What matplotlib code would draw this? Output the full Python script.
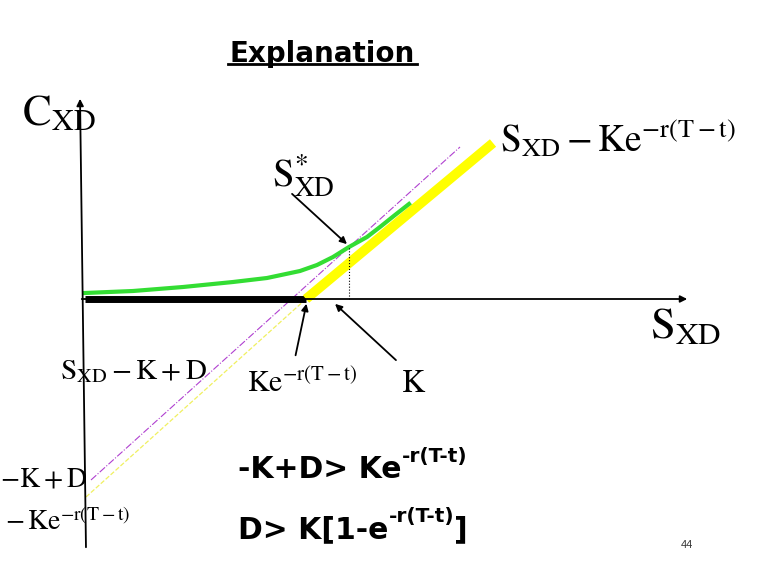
import matplotlib.pyplot as plt

# diagram coordinates: origin at the axes crossing, x = stock price S_XD, y = call value C_XD
ke_disc = 223          # K e^{-r(T-t)}
strike = 250           # K
s_star = 266           # S*_XD

payoff_x = [2, ke_disc]
payoff_y = [0, 0]
lower_x = [ke_disc, 410]
lower_y = [0, 156]

call_x = [2, 50, 100, 150, 184, 217, 234, 250, 266, 284, 297, 312, 326]
call_y = [6, 8, 12, 17, 21, 28, 34, 42, 52, 62, 72, 84, 95]

purple_x = [8, 377]
purple_y = [-181, 152]
yellow_dash_x = [3, ke_disc]
yellow_dash_y = [-198, 0]

fig = plt.figure(figsize=(7.59, 5.76), dpi=100)
ax = fig.add_axes([0, 0, 1, 1])
ax.set_xlim(-83, 676)
ax.set_ylim(-277, 299)
ax.axis("off")

arrow = dict(arrowstyle="-|>", color="black", lw=1.3, mutation_scale=10)

# axes
ax.annotate("", xy=(-3, 203), xytext=(3, -251), arrowprops=arrow)
ax.annotate("", xy=(607, 0), xytext=(-4, 0), arrowprops=arrow)

ax.plot(purple_x, purple_y, color="#b040d0", lw=0.8, ls="-.")
ax.plot(yellow_dash_x, yellow_dash_y, color="#f0f060", lw=0.9, ls="--")
ax.plot(payoff_x, payoff_y, color="black", lw=5, solid_capstyle="butt")
ax.plot(lower_x, lower_y, color="#ffff00", lw=7, solid_capstyle="butt")
ax.plot(call_x, call_y, color="#33dd33", lw=3, solid_joinstyle="round")
ax.plot([s_star, s_star], [0, 52], color="black", lw=0.8, ls=":")

ax.annotate("", xy=(s_star, 53), xytext=(207, 107), arrowprops=arrow)
ax.annotate("", xy=(ke_disc + 1, -2), xytext=(212, -59), arrowprops=arrow)
ax.annotate("", xy=(strike, -3), xytext=(315, -63), arrowprops=arrow)

serif = dict(math_fontfamily="stix", color="black", va="baseline", ha="left")
ax.text(-61, 174, r"$\mathrm{C}_{\mathrm{XD}}$", fontsize=31, **serif)
ax.text(189, 112, r"$\mathrm{S}_{\mathrm{XD}}^{*}$", fontsize=28, **serif)
ax.text(417, 147, r"$\mathrm{S}_{\mathrm{XD}}-\mathrm{Ke}^{-\mathrm{r(T-t)}}$",
        fontsize=27, **serif)
ax.text(567, -39, r"$\mathrm{S}_{\mathrm{XD}}$", fontsize=32, **serif)
ax.text(-23, -80, r"$\mathrm{S}_{\mathrm{XD}}-\mathrm{K}+\mathrm{D}$", fontsize=21, **serif)
ax.text(164, -93, r"$\mathrm{Ke}^{-\mathrm{r(T-t)}}$", fontsize=21.5, **serif)
ax.text(318, -93, r"$\mathrm{K}$", fontsize=23, **serif)
ax.text(-83, -188, r"$-\mathrm{K}+\mathrm{D}$", fontsize=20, **serif)
ax.text(-78, -231, r"$\mathrm{-\,Ke}^{-\mathrm{r(T-t)}}$", fontsize=20, **serif)

bold = dict(family="DejaVu Sans", weight="bold", color="black")
ax.text(322 - 83, 299 - 62, "Explanation", fontsize=20, ha="center",
        va="baseline", **bold)
ax.plot([228 - 83, 417 - 83], [299 - 64, 299 - 64], color="black", lw=2)

line1 = ax.text(238 - 83, 299 - 478, "-K+D> Ke", fontsize=21.5, va="baseline", **bold)
ax.annotate("-r(T-t)", xy=(1, 1), xycoords=line1, xytext=(0, 6),
            textcoords="offset points", va="top", ha="left", fontsize=14.5, **bold)
line2 = ax.text(238 - 83, 299 - 538, "D> K[1-e", fontsize=21.5, va="baseline", **bold)
sup2 = ax.annotate("-r(T-t)", xy=(1, 1), xycoords=line2, xytext=(0, 6),
                   textcoords="offset points", va="top", ha="left", fontsize=14.5, **bold)
ax.annotate("]", xy=(1, 0), xycoords=(sup2, line2), va="bottom", ha="left",
            fontsize=21.5, **bold)

ax.text(687 - 83, 299 - 548, "44", fontsize=8, family="Liberation Sans",
        ha="center", va="baseline", color="#333333")

fig.savefig("out.png", dpi=100)
